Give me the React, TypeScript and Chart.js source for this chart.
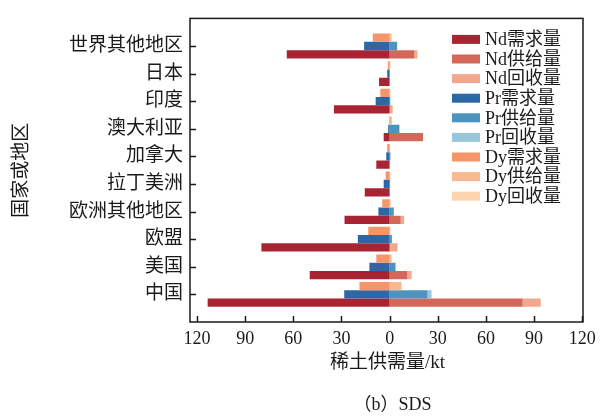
import React, { useEffect, useRef } from 'react';
import { Chart, registerables } from 'chart.js';

Chart.register(...registerables);

// Categories (top to bottom)
const regions = ['世界其他地区', '日本', '印度', '澳大利亚', '加拿大', '拉丁美洲', '欧洲其他地区', '欧盟', '美国', '中国'];

// Nd (kt); demand shown as negative values
const ndDemand = [-64.1, -6.6, -34.7, -3.7, -8.3, -15.5, -28.1, -79.9, -49.8, -113.4];
const ndSupply = [15.4, 0, 0, 20.8, 0, 0, 6.9, 0, 11.0, 82.9];
const ndRecycle = [1.9, 0, 1.9, 0, 0, 0, 2.1, 4.9, 2.7, 11.3];

// Pr (kt)
const prDemand = [-15.9, -1.5, -8.7, -0.9, -2.1, -3.7, -7.0, -19.8, -12.6, -28.3];
const prSupply = [4.7, 0, 0.4, 6.1, 0.5, 0.3, 2.6, 1.4, 3.7, 23.6];
const prRecycle = [0, 0, 0, 0, 0, 0, 0, 0, 0, 2.5];

// Dy (kt)
const dyDemand = [-10.5, -1.1, -5.8, -0.4, -1.5, -2.5, -4.6, -13.3, -8.3, -18.8];
const dySupply = [1.2, 0.4, 0.4, 1.4, 0.3, 0.4, 0.6, 0.4, 1.2, 7.4];
const dyRecycle = [0, 0, 0, 0, 0, 0, 0, 0, 0, 0];

const xTickValues = [-120, -90, -60, -30, 0, 30, 60, 90, 120];

const FONT = "'Liberation Serif', 'Noto Sans CJK SC', serif";
const TEXT = '#1a1a1a';

const C = {
  ndD: '#a82432', ndS: '#d3685a', ndR: '#f1a88f',
  prD: '#2c67a6', prS: '#4b94bf', prR: '#98c6dd',
  dyD: '#f6946a', dyS: '#f8b890', dyR: '#fcd5b0',
};

const legendItems = [
  { label: 'Nd需求量', color: C.ndD },
  { label: 'Nd供给量', color: C.ndS },
  { label: 'Nd回收量', color: C.ndR },
  { label: 'Pr需求量', color: C.prD },
  { label: 'Pr供给量', color: C.prS },
  { label: 'Pr回收量', color: C.prR },
  { label: 'Dy需求量', color: C.dyD },
  { label: 'Dy供给量', color: C.dyS },
  { label: 'Dy回收量', color: C.dyR },
];

const pad = (arr: number[]) => [null, ...arr, null];
const yLabels = ['', ...regions, ''];

const decor = {
  id: 'decor',
  afterDraw(chart: any) {
    const { ctx, chartArea: a, scales } = chart;
    ctx.save();
    ctx.strokeStyle = '#1a1a1a';
    ctx.lineWidth = 1.5;
    ctx.strokeRect(a.left, a.top, a.right - a.left, a.bottom - a.top);
    // inward tick marks
    xTickValues.forEach((v) => {
      const px = Math.round(scales.x.getPixelForValue(v)) + 0.5;
      ctx.beginPath();
      ctx.moveTo(px, a.bottom);
      ctx.lineTo(px, a.bottom - 6);
      ctx.stroke();
    });
    regions.forEach((_, i) => {
      const py = Math.round(scales.y.getPixelForValue(i + 1)) + 0.5;
      ctx.beginPath();
      ctx.moveTo(a.left, py);
      ctx.lineTo(a.left + 6, py);
      ctx.stroke();
    });
    // legend
    ctx.font = `18px ${FONT}`;
    ctx.textAlign = 'left';
    ctx.textBaseline = 'middle';
    legendItems.forEach((it, i) => {
      const cy = a.top + 21 + i * 19.6;
      ctx.fillStyle = it.color;
      ctx.fillRect(a.right - 131, cy - 4.5, 28, 9);
      ctx.fillStyle = TEXT;
      ctx.fillText(it.label, a.right - 98, cy + 1);
    });
    // axis titles & caption
    ctx.fillStyle = TEXT;
    ctx.textAlign = 'center';
    ctx.font = `19px ${FONT}`;
    ctx.fillText('稀土供需量/kt', (a.left + a.right) / 2 + 1, a.bottom + 41);
    ctx.font = `18px ${FONT}`;
    ctx.fillText('（b）SDS', (a.left + a.right) / 2 + 6, a.bottom + 83);
    ctx.font = `19px ${FONT}`;
    ctx.translate(22, (a.top + a.bottom) / 2);
    ctx.rotate(-Math.PI / 2);
    ctx.fillText('国家或地区', 0, 0);
    ctx.restore();
  },
};

export default function App() {
  const ref = useRef<HTMLCanvasElement | null>(null);

  useEffect(() => {
    if (!ref.current) return;
    const mk = (label: string, data: number[], color: string, stack: string) => ({
      label,
      data: pad(data),
      backgroundColor: color,
      borderWidth: 0,
      stack,
      categoryPercentage: 0.9,
      barPercentage: 1.0,
    });
    const chart = new Chart(ref.current, {
      type: 'bar',
      data: {
        labels: yLabels,
        datasets: [
          mk('Dy需求量', dyDemand, C.dyD, 'Dy'),
          mk('Dy供给量', dySupply, C.dyS, 'Dy'),
          mk('Dy回收量', dyRecycle, C.dyR, 'Dy'),
          mk('Pr需求量', prDemand, C.prD, 'Pr'),
          mk('Pr供给量', prSupply, C.prS, 'Pr'),
          mk('Pr回收量', prRecycle, C.prR, 'Pr'),
          mk('Nd需求量', ndDemand, C.ndD, 'Nd'),
          mk('Nd供给量', ndSupply, C.ndS, 'Nd'),
          mk('Nd回收量', ndRecycle, C.ndR, 'Nd'),
        ] as any,
      },
      options: {
        indexAxis: 'y',
        animation: false,
        responsive: false,
        maintainAspectRatio: false,
        layout: { padding: { top: 8, right: 25, left: 0, bottom: 0 } },
        plugins: { legend: { display: false }, tooltip: { enabled: false }, title: { display: false } },
        scales: {
          x: {
            type: 'linear',
            min: -124.4,
            max: 120.5,
            stacked: true,
            grid: { display: false, drawTicks: false },
            border: { display: false },
            ticks: {
              color: TEXT,
              font: { family: FONT, size: 18 },
              padding: 6,
              maxRotation: 0,
              callback: (v: any) => String(Math.abs(Number(v))),
            },
            afterBuildTicks: (s: any) => {
              s.ticks = xTickValues.map((v) => ({ value: v }));
            },
            afterFit: (s: any) => {
              s.height = 96;
            },
          },
          y: {
            type: 'category',
            offset: false,
            stacked: true,
            grid: { display: false, drawTicks: false },
            border: { display: false },
            ticks: {
              color: TEXT,
              font: { family: FONT, size: 19 },
              padding: 7,
              autoSkip: false,
            },
            afterFit: (s: any) => {
              s.width = 190;
            },
          },
        },
      } as any,
      plugins: [decor],
    });
    return () => chart.destroy();
  }, []);

  return (
    <div style={{ position: 'fixed', left: 0, top: 0, width: 608, height: 418, background: '#fff' }}>
      <canvas ref={ref} width={608} height={418} style={{ width: 608, height: 418 }} />
    </div>
  );
}
